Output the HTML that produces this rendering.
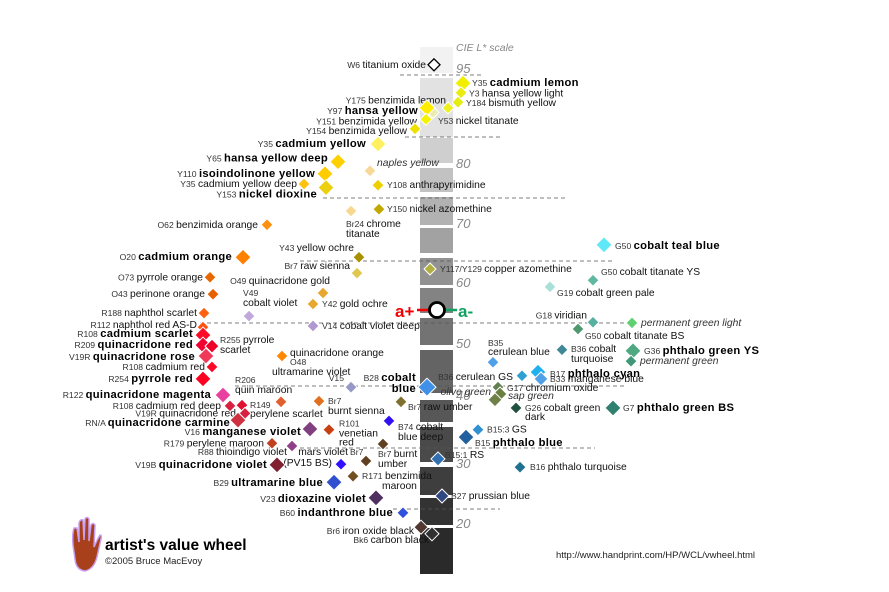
<!DOCTYPE html>
<html><head><meta charset="utf-8">
<style>
html,body{margin:0;padding:0;background:#fff;}
svg{display:block;font-family:"Liberation Sans",Arial,sans-serif;}
</style></head>
<body>
<svg id="chart" width="889" height="592" viewBox="0 0 889 592" xmlns="http://www.w3.org/2000/svg">
<rect width="889" height="592" fill="#fff"/>
<g id="bar"></g>
<g id="grid"></g>
<g id="ticks"></g>
<text x="456" y="51" font-size="10.5" font-style="italic" fill="#888">CIE L* scale</text>
<g>
<text x="395" y="317" font-size="17" font-weight="bold" fill="#f00000">a+</text>
<line x1="417" y1="310" x2="430" y2="310" stroke="#f00000" stroke-width="2.5"/>
<line x1="444" y1="310" x2="457" y2="310" stroke="#10a060" stroke-width="2.5"/>
<circle cx="437" cy="310" r="7.5" fill="#fff" stroke="#000" stroke-width="2.8"/>
<text x="458" y="317" font-size="17" font-weight="bold" fill="#10a060">a-</text>
</g>
<g id="marks"></g>
<g>
<g fill="#a8401c" stroke="#c8a0f0" stroke-width="1.5">
<path d="M73 545 Q72 534 74 528 L77 528 Q78 535 79 542 L79 523 Q80 519 83 520 L84 540 L85 519 Q87 516 89 519 L89 541 L91 525 Q93 522 95 525 L94 547 Q97 540 100 535 Q102 535 101 539 L97 557 Q94 569 85 571 Q76 570 75 559 Z"/>
</g>
</g>
<text x="105" y="550" font-size="15.5" font-weight="bold" fill="#000">artist's value wheel</text>
<text x="105" y="564" font-size="9.5" fill="#222">©2005  Bruce MacEvoy</text>
<text x="556" y="558" font-size="9.5" fill="#222">http://www.handprint.com/HP/WCL/vwheel.html</text>
</svg>
<script>
// ---- data ----
const tickValues = [95, 80, 70, 60, 50, 40, 30, 20];
const pigmentCodes = ["W6","Y35","Y3","Y184","Y53","Y175","Y97","Y151","Y154","Y35","Y65","","Y110","Y35","Y108","Y153","Y150","Br24","O62","Y43","O20","Br7","Y117/Y129","O73","O43","O49","V49","Y42","G50","G50","G19","R188","R112","V14","G18","","G50","R108","R209","R255","V19R","R108","R254","O48","V15","B35","B36","G36","","B28","B36","B17","B33","G17","","","G26","G7","B15:3","B15","B15:1","B16","B27","R122","R108","R149","V19R","RN/A","R206","Br7","Br7","B74","V16","R101","R179","R88","Br7","PV15","Br7","R171","V19B","B29","V23","B60","Br6","Bk6"];
const pigmentNames = ["titanium oxide","cadmium lemon","hansa yellow light","bismuth yellow","nickel titanate","benzimida lemon","hansa yellow","benzimida yellow","benzimida yellow","cadmium yellow","hansa yellow deep","naples yellow","isoindolinone yellow","cadmium yellow deep","anthrapyrimidine","nickel dioxine","nickel azomethine","chrome titanate","benzimida orange","yellow ochre","cadmium orange","raw sienna","copper azomethine","pyrrole orange","perinone orange","quinacridone gold","cobalt violet","gold ochre","cobalt teal blue","cobalt titanate YS","cobalt green pale","naphthol scarlet","naphthol red AS-D","cobalt violet deep","viridian","permanent green light","cobalt titanate BS","cadmium scarlet","quinacridone red","pyrrole scarlet","quinacridone rose","cadmium red","pyrrole red","quinacridone orange","ultramarine violet","cerulean blue","cobalt turquoise","phthalo green YS","permanent green","cobalt blue","cerulean GS","phthalo cyan","manganese blue","chromium oxide","olive green","sap green","cobalt green dark","phthalo green BS","GS","phthalo blue","RS","phthalo turquoise","prussian blue","quinacridone magenta","cadmium red deep","perylene scarlet","quinacridone red","quinacridone carmine","quin maroon","burnt sienna","raw umber","cobalt blue deep","manganese violet","venetian red","perylene maroon","thioindigo violet","burnt umber","mars violet","burnt umber","benzimida maroon","quinacridone violet","ultramarine blue","dioxazine violet","indanthrone blue","iron oxide black","carbon black"];
const lightness = [95.5,92.6,91.1,89.6,88.7,88.0,88.7,86.9,85.4,83.0,80.2,78.7,78.2,76.5,76.3,75.9,72.3,72.0,69.7,64.2,64.2,61.5,62.2,60.8,58.0,58.2,54.4,56.4,66.3,60.3,59.2,54.9,52.6,52.8,53.4,53.3,52.3,51.3,49.6,49.4,47.5,45.4,43.1,47.5,41.5,46.3,48.7,48.5,46.5,41.5,43.7,44.4,43.1,41.5,40.2,39.3,38.1,38.1,34.9,33.8,30.6,29.3,24.5,40.0,38.4,38.5,37.3,36.3,39.0,39.1,39.0,36.2,35.0,34.9,32.9,32.5,32.8,29.8,30.3,27.8,29.7,26.8,24.2,21.7,19.3,18.2];
const hueOffset = [-3,26,24,21,11,-4,-10,-11,-22,-59,-99,-67,-112,-133,-59,-111,-58,-86,-170,-78,-194,-80,-7,-227,-224,-114,-188,-124,167,156,113,-233,-234,-124,156,195,141,-234,-234,-225,-231,-225,-234,-155,-86,56,125,196,194,-10,85,101,104,61,63,58,79,176,41,29,1,83,5,-214,-207,-195,-192,-199,-156,-118,-36,-48,-127,-108,-165,-145,-54,-96,-71,-84,-160,-103,-61,-34,-16,-5];

// ---- styling / label layout (not data) ----
const looks = [
["#ffffff",6,[["W6~titanium oxide",-8,3,"end","n"]]],
["#f2ee00",8,[["Y35~cadmium lemon",9,3,"start","b"]]],
["#eaec10",6,[["Y3~hansa yellow light",8,4,"start","n"]]],
["#e4ec10",6,[["Y184~bismuth yellow",8,4,"start","n"]]],
["#ecf020",6,[["Y53~nickel titanate",-10,16,"start","n"]]],
["#ecebb0",6,[["Y175~benzimida lemon",13,-9,"end","n"]]],
["#ffec00",8,[["Y97~hansa yellow",-9,6,"end","b"]]],
["#f4f400",6,[["Y151~benzimida yellow",-9,5,"end","n"]]],
["#f0e000",6,[["Y154~benzimida yellow",-8,5,"end","n"]]],
["#fff060",8,[["Y35~cadmium yellow",-12,3,"end","b"]]],
["#ffd000",8,[["Y65~hansa yellow deep",-10,0,"end","b"]]],
["#f8d898",6,[["naples yellow",7,-5,"start","i"]]],
["#ffcc00",8,[["Y110~isoindolinone yellow",-10,3,"end","b"]]],
["#ffc010",6,[["Y35~cadmium yellow deep",-7,3,"end","n"]]],
["#eed000",6,[["Y108~anthrapyrimidine",9,3,"start","n"]]],
["#ecd010",8,[["Y153~nickel dioxine",-9,10,"end","b"]]],
["#c0a800",6,[["Y150~nickel azomethine",8,3,"start","n"]]],
["#f8d890",6,[["Br24~chrome",-5,16,"start","n"],["titanate",-5,26,"start","n"]]],
["#ff9010",6,[["O62~benzimida orange",-9,3,"end","n"]]],
["#a89000",6,[["Y43~yellow ochre",-5,-6,"end","n"]]],
["#ff8000",8,[["O20~cadmium orange",-11,3,"end","b"]]],
["#e0c850",6,[["Br7~raw sienna",-7,-4,"end","n"]]],
["#b0b040",6,[["Y117/Y129~copper azomethine",10,3,"start","n"]]],
["#e86800",6,[["O73~pyrrole orange",-7,3,"end","n"]]],
["#e86000",6,[["O43~perinone orange",-8,3,"end","n"]]],
["#e8a830",6,[["O49~quinacridone gold",7,-9,"end","n"]]],
["#c0a8dc",6,[["V49~",-6,-20,"start","n"],["cobalt violet",-6,-10,"start","n"]]],
["#e8a830",6,[["Y42~gold ochre",9,3,"start","n"]]],
["#60e8f8",8,[["G50~cobalt teal  blue",11,4,"start","b"]]],
["#60b8a0",6,[["G50~cobalt titanate YS",8,-5,"start","n"]]],
["#a8e0d8",6,[["G19~cobalt green pale",7,9,"start","n"]]],
["#ff6010",6,[["R188~naphthol scarlet",-7,3,"end","n"]]],
["#ff5010",6,[["R112~naphthol red AS-D",-6,1,"end","n"]]],
["#b098d0",6,[["V14~cobalt violet deep",9,3,"start","n"]]],
["#58b0a0",6,[["G18~viridian",-6,-4,"end","n"]]],
["#60d070",6,[["permanent green light",9,3,"start","i"]]],
["#509870",6,[["G50~cobalt titanate BS",7,10,"start","n"]]],
["#ff0828",8,[["R108~cadmium scarlet",-10,2,"end","b"]]],
["#f00030",8,[["R209~quinacridone red",-10,3,"end","b"]]],
["#f00028",7,[["R255~pyrrole",8,-3,"start","n"],["scarlet",8,7,"start","n"]]],
["#f03858",8,[["V19R~quinacridone rose",-11,4,"end","b"]]],
["#ff0828",6,[["R108~cadmium red",-7,3,"end","n"]]],
["#ff0020",8,[["R254~pyrrole red",-10,3,"end","b"]]],
["#ff8800",6,[["quinacridone orange",8,0,"start","n"],["O48~",8,9,"start","n"]]],
["#9898c8",6,[["V15~",-7,-6,"end","n"],["ultramarine violet",-79,-12,"start","n"]]],
["#50a0e8",6,[["B35~",-5,-16,"start","n"],["cerulean blue",-5,-7,"start","n"]]],
["#408898",6,[["B36~cobalt",9,2,"start","n"],["turquoise",9,12,"start","n"]]],
["#50a880",8,[["G36~phthalo green YS",11,3,"start","b"]]],
["#409878",6,[["permanent green",9,3,"start","i"]]],
["#4090e8",9,[["B28~cobalt",-11,-6,"end","b"],["blue",-11,5,"end","b"]]],
["#30a0d0",6,[["B36~cerulean GS",-9,4,"end","n"]]],
["#20b0f0",8,[["B17~phthalo cyan",12,5,"start","b"]]],
["#50a0e8",7,[["B33~manganese blue",9,3,"start","n"]]],
["#608050",6,[["G17~chromium oxide",9,4,"start","n"]]],
["#6a8040",7,[["olive green",-9,1,"end","i"]]],
["#708048",7,[["sap green",13,-1,"start","i"]]],
["#205040",6,[["G26~cobalt green",9,3,"start","n"],["dark",9,12,"start","n"]]],
["#308070",8,[["G7~phthalo green BS",10,3,"start","b"]]],
["#3090d0",6,[["B15:3~GS",9,3,"start","n"]]],
["#2060a0",8,[["B15~phthalo blue",9,9,"start","b"]]],
["#3070b0",7,[["B15:1~RS",7,-1,"start","n"]]],
["#207090",6,[["B16~phthalo turquoise",10,3,"start","n"]]],
["#304880",7,[["B27~prussian blue",9,3,"start","n"]]],
["#e840a0",8,[["R122~quinacridone magenta",-12,3,"end","b"]]],
["#d82040",6,[["R108~cadmium red deep",-9,3,"end","n"]]],
["#e01030",6,[["R149~",8,3,"start","n"],["perylene scarlet",8,12,"start","n"]]],
["#d82040",6,[["V19R~quinacridone red",-9,3,"end","n"]]],
["#d03040",8,[["RN/A~quinacridone carmine",-8,6,"end","b"]]],
["#e06030",6,[["R206~",-46,-19,"start","n"],["quin maroon",-46,-9,"start","n"]]],
["#e07020",6,[["Br7~",9,3,"start","n"],["burnt sienna",9,13,"start","n"]]],
["#807030",6,[["Br7~raw umber",7,8,"start","n"]]],
["#3010f0",6,[["B74~cobalt",9,9,"start","n"],["blue deep",9,19,"start","n"]]],
["#804080",8,[["V16~manganese violet",-9,6,"end","b"]]],
["#c84010",6,[["R101~",10,-3,"start","n"],["venetian",10,7,"start","n"],["red",10,16,"start","n"]]],
["#c04020",6,[["R179~perylene maroon",-8,3,"end","n"]]],
["#904088",6,[["R88~thioindigo violet",-5,9,"end","n"]]],
["#604020",6,[]],
["#3010ff",6,[["mars violet",7,-9,"end","n"],["(PV15 BS)",-9,2,"end","n"]]],
["#604020",6,[["Br7~burnt",12,-4,"start","n"],["umber",12,6,"start","n"],["Br7~",-16,-6,"start","n"]]],
["#705020",6,[["R171~benzimida",9,3,"start","n"],["maroon",29,13,"start","n"]]],
["#802030",8,[["V19B~quinacridone violet",-10,3,"end","b"]]],
["#3050d0",8,[["B29~ultramarine blue",-11,4,"end","b"]]],
["#503060",8,[["V23~dioxazine violet",-10,4,"end","b"]]],
["#3050e0",6,[["B60~indanthrone blue",-10,3,"end","b"]]],
["#503830",7,[["Br6~iron oxide black",-7,7,"end","n"]]],
["#303030",7,[["Bk6~carbon black",-3,9,"end","n"]]]
];

// ---- axis functions ----
const tickY = [68,163,223,282,343,395,463,523];
function yOf(L){
  const Ls=[100].concat(tickValues,[10]);
  const Ys=[36].concat(tickY,[583]);
  for(let i=0;i<Ls.length-1;i++){
    if(L<=Ls[i] && L>=Ls[i+1]){
      return Ys[i]+(Ls[i]-L)/(Ls[i]-Ls[i+1])*(Ys[i+1]-Ys[i]);
    }
  }
  return L>100?36:583;
}
function xOf(a){ return 437 + a; }

const NS="http://www.w3.org/2000/svg";
function mk(tag,attrs,parent){const e=document.createElementNS(NS,tag);for(const k in attrs)e.setAttribute(k,attrs[k]);parent.appendChild(e);return e;}

const bar=document.getElementById('bar');
const segs=[[47,73,"#f2f2f2"],[78,137,"#e2e2e2"],[138,163,"#cfcfcf"],[168,192,"#c2c2c2"],[197,225,"#b2b2b2"],[228,253,"#a2a2a2"],[258,285,"#929292"],[288,313,"#838383"],[318,345,"#737373"],[350,393,"#646464"],[400,422,"#575757"],[427,462,"#4a4a4a"],[467,495,"#3e3e3e"],[498,525,"#333333"],[528,574,"#2a2a2a"]];
segs.forEach(s=>{const r=mk('rect',{x:420,y:s[0],width:33,height:s[1]-s[0],fill:s[2]},bar);

});

const grid=document.getElementById('grid');
[[75,400,482],[137,405,500],[198,323,567],[261,300,612],[323,200,627],[386,235,625],[448,300,595],[509,393,500]].forEach(d=>{
  const l=mk('line',{x1:d[1],x2:d[2],y1:d[0],y2:d[0],stroke:"#555","stroke-width":0.8,"stroke-dasharray":"4,3"},grid);
  
  
});

const ticks=document.getElementById('ticks');
tickValues.forEach(v=>{
  const t=mk('text',{x:456,y:yOf(v)+5,"font-size":13,"font-style":"italic",fill:"#888"},ticks);
  t.textContent=v;
  
  
});

const marks=document.getElementById('marks');
lightness.forEach((L,i)=>{
  const cx=xOf(hueOffset[i]), cy=yOf(L);
  const lk=looks[i]; const s=lk[1];
  const g=mk('g',{},marks);
  
  
  const p=mk('polygon',{points:`${cx},${cy-s} ${cx+s},${cy} ${cx},${cy+s} ${cx-s},${cy}`,fill:lk[0],stroke:i===0?"#000":"#fff","stroke-width":i===0?1.3:1},g);
  
  
  lk[2].forEach(lb=>{
    const t=mk('text',{x:cx+lb[1],y:cy+lb[2],"text-anchor":lb[3],fill:"#111"},g);
    
    
    const parts=lb[0].split('~');
    let code="",name=lb[0];
    if(parts.length>1){code=parts[0];name=parts[1];}
    if(code){const c=mk('tspan',{"font-size":8.6,fill:"#333"},t);c.textContent=code+(name?" ":"");}
    if(name){
      const n=mk('tspan',{"font-size":lb[4]==="b"?11.2:10.3},t);
      if(lb[4]==="b"){n.setAttribute('font-weight','bold');n.setAttribute('fill','#000');n.setAttribute('letter-spacing','0.3');}
      if(lb[4]==="i"){n.setAttribute('font-style','italic');n.setAttribute('fill','#333');}
      n.textContent=name;
    }
  });
});
</script>
</body></html>
